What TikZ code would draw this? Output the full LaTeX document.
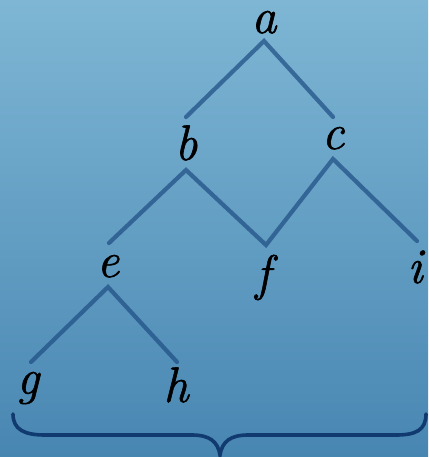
\documentclass[tikz,border=0pt]{standalone}
\usepackage{fontspec}
\newfontfamily\lblfont[ItalicFeatures={FakeBold=1.2}]{Latin Modern Roman}
\definecolor{bgtop}{RGB}{126,182,212}
\definecolor{bgbot}{RGB}{72,134,178}
\definecolor{edgecol}{RGB}{34,82,135}
\definecolor{bracecol}{RGB}{16,58,112}
\begin{document}
\begin{tikzpicture}[x=1pt,y=-1pt,
  lbl/.style={inner sep=0pt,anchor=base,font=\fontsize{50}{50}\lblfont\itshape},
  edge/.style={draw=edgecol,draw opacity=0.75,line width=4.2pt,line cap=round},
  bracepath/.style={draw=bracecol,line width=3.6pt,line cap=round}]
\shade[top color=bgtop,bottom color=bgbot] (0,0) rectangle (428,457);
\useasboundingbox (0,0) rectangle (428,457);
% labels (placed on their baselines)
\node[lbl,text height=1.1ex] (a) at (264,33) {a};
\node[lbl] (b) at (186,160) {b};
\node[lbl] (c) at (333,149) {c};
\node[lbl] (e) at (108,277) {e};
\node[lbl] (f) at (263,290) {f};
\node[lbl] (i) at (415,283) {i};
\node[lbl] (g) at (28,394) {g};
\node[lbl] (h) at (176,402) {h};
% connector points
\coordinate (pa) at (264,41);
\coordinate (pb) at (186,170);
\coordinate (pc) at (333,159);
\coordinate (pe) at (108,287);
\coordinate (ab) at (186,117);
\coordinate (ac) at (333,117);
\coordinate (be) at (109,243);
\coordinate (bf) at (266,245);
\coordinate (ci) at (417,241);
\coordinate (eg) at (31,362);
\coordinate (eh) at (177,362);
\draw[edge] (ab) -- (pa) -- (ac);
\draw[edge] (be) -- (pb) -- (bf) -- (pc) -- (ci);
\draw[edge] (eg) -- (pe) -- (eh);
% brace
\coordinate (bl) at (13,414);
\coordinate (br) at (426,414);
\coordinate (bm) at (220,455);
\draw[bracepath] (bl) .. controls (13,430) and (25,435) .. (45,435)
  -- (192,435) .. controls (210,435) and (218,442) .. (bm)
  .. controls (222,442) and (230,435) .. (248,435)
  -- (396,435) .. controls (416,435) and (426,430) .. (br);
\end{tikzpicture}
\end{document}
